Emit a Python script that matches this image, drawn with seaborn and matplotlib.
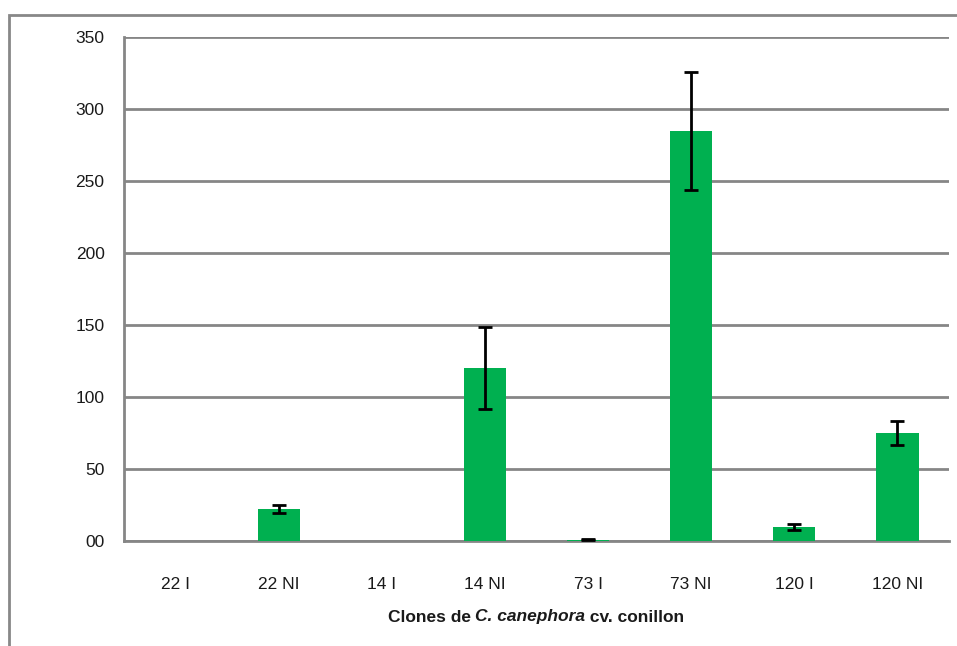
import matplotlib
matplotlib.use("Agg")
import seaborn as sns
import pandas as pd
from matplotlib import pyplot as plt
from matplotlib.patches import Rectangle
from matplotlib.offsetbox import TextArea, HPacker, AnnotationBbox

clones = ["22 I", "22 NI", "14 I", "14 NI", "73 I", "73 NI", "120 I", "120 NI"]
values = [0, 22.5, 0, 120, 1, 285, 9.7, 75]
errors = [0, 2.8, 0, 28.5, 0.3, 41, 2, 8]
ytick_vals = [0, 50, 100, 150, 200, 250, 300, 350]
ytick_labels = ["00", "50", "100", "150", "200", "250", "300", "350"]

sns.set_style("white")
plt.rcParams["font.family"] = ["Liberation Sans Narrow", "Liberation Sans", "DejaVu Sans"]

df = pd.DataFrame({"clone": clones, "value": values})

fig = plt.figure(figsize=(9.57, 6.46), dpi=100)
ax = fig.add_axes([124 / 957, 1 - 541 / 646, (949 - 124) / 957, (541 - 37) / 646])

grid_color = "#868686"
text_color = "#1a1a1a"
sns.barplot(data=df, x="clone", y="value", color="#00B050", width=0.41,
            saturation=1, errorbar=None, linewidth=0, ax=ax, zorder=3)

# error bars only where there is a measured spread
pos = [i for i, e in enumerate(errors) if e > 0]
ax.errorbar(pos, [values[i] for i in pos], yerr=[errors[i] for i in pos], fmt="none",
            ecolor="black", elinewidth=2, capsize=5, capthick=2, zorder=4)

ax.set_ylim(0, 350)
ax.set_xlim(-0.5, len(clones) - 0.5)
ax.set_yticks(ytick_vals)
ax.set_yticklabels(ytick_labels)
ax.yaxis.grid(True, color=grid_color, linewidth=2, zorder=0)
ax.set_axisbelow(True)

# category boundary ticks like Excel
ax.set_xticks([i - 0.5 for i in range(len(clones) + 1)], minor=True)
ax.tick_params(axis="x", which="major", length=0, pad=26, labelsize=12.5, labelcolor=text_color)
ax.tick_params(axis="x", which="minor", length=7, width=2, color=grid_color, direction="out")
ax.tick_params(axis="y", length=6, width=2, color=grid_color, direction="out",
               labelsize=12.5, pad=8, labelcolor=text_color)

for side in ["top", "right"]:
    ax.spines[side].set_visible(False)
for side in ["left", "bottom"]:
    ax.spines[side].set_color(grid_color)
    ax.spines[side].set_linewidth(2)

ax.set_ylabel("")
ax.set_xlabel("")

# x label with italic species name
parts = [
    TextArea("Clones de ", textprops=dict(fontsize=12.5, fontweight="bold", color=text_color)),
    TextArea("C. canephora", textprops=dict(fontsize=12.5, fontweight="bold", style="italic", color=text_color)),
    TextArea(" cv. conillon", textprops=dict(fontsize=12.5, fontweight="bold", color=text_color)),
]
label = HPacker(children=parts, align="baseline", pad=0, sep=0)
ab = AnnotationBbox(label, (536 / 957, 1 - 617 / 646), xycoords="figure fraction",
                    frameon=False, box_alignment=(0.5, 0.5))
fig.add_artist(ab)

fig.patches.append(Rectangle((9 / 957, -0.05), 1.1, 1 - 15 / 646 + 0.05,
                             transform=fig.transFigure, fill=False,
                             edgecolor="#888888", linewidth=2))

fig.savefig("out.png", dpi=100)
